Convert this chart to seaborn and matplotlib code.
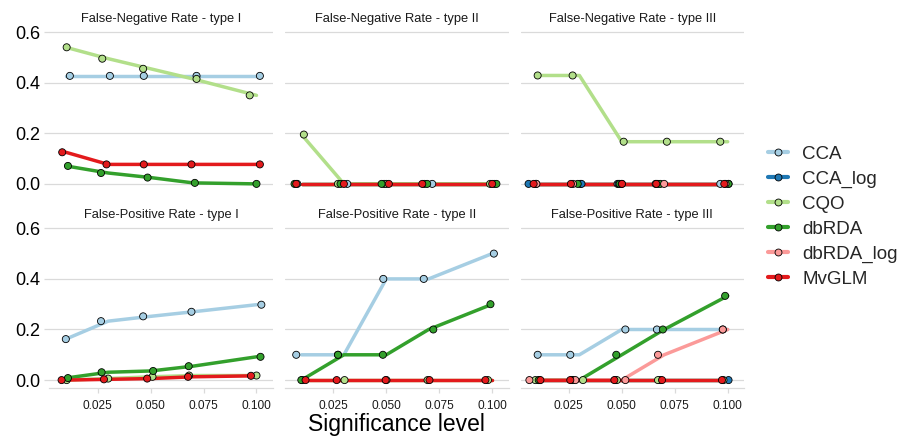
import numpy as np
import pandas as pd
import matplotlib
matplotlib.use("Agg")
import matplotlib.pyplot as plt
import seaborn as sns
from matplotlib.lines import Line2D

# ---------------- data ----------------
sig = [0.01, 0.03, 0.05, 0.07, 0.10]
methods = ["CCA", "CCA_log", "CQO", "dbRDA", "dbRDA_log", "MvGLM"]
colors = ["#A6CEE3", "#1F78B4", "#B2DF8A", "#33A02C", "#FB9A99", "#E31A1C"]
titles = ["False-Negative Rate - type I", "False-Negative Rate - type II",
          "False-Negative Rate - type III", "False-Positive Rate - type I",
          "False-Positive Rate - type II", "False-Positive Rate - type III"]
xticks = [0.025, 0.050, 0.075, 0.100]
xtick_labels = ["0.025", "0.050", "0.075", "0.100"]
yticks = [0.0, 0.2, 0.4, 0.6]
ytick_labels = ["0.0", "0.2", "0.4", "0.6"]

# rates (line values) per panel / method
fn1_vals = {"CCA": [0.427, 0.427, 0.427, 0.427, 0.427],
            "CQO": [0.54, 0.495, 0.455, 0.415, 0.35],
            "dbRDA": [0.071, 0.043, 0.025, 0.004, 0.0],
            "MvGLM": [0.125, 0.077, 0.077, 0.077, 0.077]}
fn2_vals = {"CCA": [0, 0, 0, 0, 0],
            "CQO": [0.195, 0, 0, 0, 0],
            "dbRDA": [0, 0, 0, 0, 0],
            "MvGLM": [0, 0, 0, 0, 0]}
fn3_vals = {"CCA": [0, 0, 0, 0, 0],
            "CCA_log": [0, 0, 0, 0, 0],
            "CQO": [0.4286, 0.4286, 0.1667, 0.1667, 0.1667],
            "dbRDA": [0, 0, 0, 0, 0],
            "dbRDA_log": [0, 0, 0, 0, 0],
            "MvGLM": [0, 0, 0, 0, 0]}
fp1_vals = {"CCA": [0.162, 0.233, 0.252, 0.27, 0.298],
            "CQO": [0.0, 0.006, 0.013, 0.018, 0.018],
            "dbRDA": [0.008, 0.031, 0.036, 0.055, 0.092],
            "MvGLM": [0.0, 0.003, 0.006, 0.013, 0.017]}
fp2_vals = {"CCA": [0.1, 0.1, 0.4, 0.4, 0.5],
            "CQO": [0, 0, 0, 0, 0],
            "dbRDA": [0.0, 0.1, 0.1, 0.2, 0.3],
            "MvGLM": [0, 0, 0, 0, 0]}
fp3_vals = {"CCA": [0.1, 0.1, 0.2, 0.2, 0.2],
            "CCA_log": [0, 0, 0, 0, 0],
            "CQO": [0, 0, 0, 0, 0],
            "dbRDA": [0.0, 0.0, 0.1, 0.2, 0.333],
            "dbRDA_log": [0.0, 0.0, 0.0, 0.1, 0.2],
            "MvGLM": [0, 0, 0, 0, 0]}

# jittered x positions of the points
fn1_jit = {"CCA": [0.0119, 0.0308, 0.0468, 0.0717, 0.1016],
           "CQO": [0.0104, 0.0272, 0.0465, 0.0717, 0.0968],
           "dbRDA": [0.0110, 0.0266, 0.0486, 0.0709, 0.1000],
           "MvGLM": [0.0083, 0.0292, 0.0468, 0.0693, 0.1016]}
fn2_jit = {"CCA": [0.0080, 0.0316, 0.0490, 0.0717, 0.1010],
           "CQO": [0.0111, 0.0272, 0.0500, 0.0680, 0.0990],
           "dbRDA": [0.0067, 0.0284, 0.0478, 0.0693, 0.1020],
           "MvGLM": [0.0075, 0.0300, 0.0512, 0.0670, 0.1000]}
fn3_jit = {"CCA": [0.0095, 0.0304, 0.0480, 0.0660, 0.0965],
           "CCA_log": [0.0060, 0.0310, 0.0485, 0.0670, 0.1004],
           "CQO": [0.0103, 0.0268, 0.0509, 0.0713, 0.0965],
           "dbRDA": [0.0095, 0.0292, 0.0490, 0.0682, 0.1004],
           "dbRDA_log": [0.0097, 0.0270, 0.0500, 0.0700, 0.0990],
           "MvGLM": [0.0084, 0.0260, 0.0501, 0.0663, 0.0984]}
fp1_jit = {"CCA": [0.0100, 0.0266, 0.0465, 0.0693, 0.1023],
           "CQO": [0.0104, 0.0300, 0.0509, 0.0682, 0.1000],
           "dbRDA": [0.0110, 0.0269, 0.0512, 0.0680, 0.1019],
           "MvGLM": [0.0080, 0.0280, 0.0484, 0.0677, 0.0974]}
fp2_jit = {"CCA": [0.0075, 0.0272, 0.0486, 0.0677, 0.1008],
           "CQO": [0.0104, 0.0303, 0.0501, 0.0695, 0.0980],
           "dbRDA": [0.0099, 0.0272, 0.0484, 0.0722, 0.0992],
           "MvGLM": [0.0119, 0.0266, 0.0497, 0.0704, 0.0968]}
fp3_jit = {"CCA": [0.0103, 0.0257, 0.0517, 0.0666, 0.0977],
           "CCA_log": [0.0110, 0.0270, 0.0470, 0.0682, 0.1004],
           "CQO": [0.0092, 0.0317, 0.0477, 0.0671, 0.0980],
           "dbRDA": [0.0108, 0.0265, 0.0474, 0.0694, 0.0988],
           "dbRDA_log": [0.0064, 0.0281, 0.0517, 0.0671, 0.0977],
           "MvGLM": [0.0116, 0.0257, 0.0465, 0.0690, 0.0973]}

panels = [(fn1_vals, fn1_jit), (fn2_vals, fn2_jit), (fn3_vals, fn3_jit),
          (fp1_vals, fp1_jit), (fp2_vals, fp2_jit), (fp3_vals, fp3_jit)]

# ---------------- plotting ----------------
sns.set_theme(style="white")
plt.rcParams["font.family"] = ["Liberation Sans", "DejaVu Sans"]

W, H = 899, 437
fig = plt.figure(figsize=(W / 100, H / 100), dpi=100)
palette = dict(zip(methods, colors))

lefts = [49.3, 285.0, 520.5]
tops = [24.4, 220.6]
pw, ph = 223.5, 167.2
grid_col = "#DADADA"

for i, (vals, jit) in enumerate(panels):
    r, c = divmod(i, 3)
    ax = fig.add_axes([lefts[c] / W, 1 - (tops[r] + ph) / H, pw / W, ph / H])
    rows = []
    for m in methods:
        if m not in vals:
            continue
        for s, v, xj in zip(sig, vals[m], jit[m]):
            rows.append({"method": m, "sig": s, "rate": v, "xj": xj})
    df = pd.DataFrame(rows)
    order = [m for m in methods if m in vals]
    sns.lineplot(data=df, x="sig", y="rate", hue="method", hue_order=order,
                 palette=palette, linewidth=2.5, estimator=None, sort=False,
                 legend=False, ax=ax, zorder=2)
    sns.scatterplot(data=df, x="xj", y="rate", hue="method", hue_order=order,
                    palette=palette, s=26, edgecolor="black", linewidth=0.6,
                    legend=False, ax=ax, zorder=3)
    ax.set_xlim(0.0022, 0.1077)
    ax.set_ylim(-0.0305, 0.6305)
    ax.set_xlabel("")
    ax.set_ylabel("")
    ax.set_yticks(yticks)
    ax.set_xticks(xticks)
    ax.grid(False)
    for yv in yticks:
        ax.axhline(yv, color=grid_col, lw=0.9, zorder=0)
    for sp in ax.spines.values():
        sp.set_visible(False)
    if r == 1:
        ax.spines["bottom"].set_visible(True)
        ax.spines["bottom"].set_color(grid_col)
        ax.spines["bottom"].set_linewidth(0.9)
        ax.set_xticklabels(xtick_labels)
        ax.tick_params(axis="x", bottom=True, length=3.3, width=0.9,
                       color=grid_col, labelsize=8.6, pad=5.5, labelcolor="#1a1a1a")
    else:
        ax.tick_params(axis="x", bottom=False, labelbottom=False)
    if c == 0:
        ax.set_yticklabels(ytick_labels)
        ax.tick_params(axis="y", left=True, length=3.3, width=0.9,
                       color=grid_col, labelsize=13, pad=3.4, labelcolor="black")
    else:
        ax.tick_params(axis="y", left=False, labelleft=False)
    ax.annotate(titles[i], xy=(0.5, 1.0), xycoords="axes fraction",
                xytext=(0, 1.6), textcoords="offset points",
                ha="center", va="baseline", fontsize=9.25, color="#1a1a1a")

fig.text(396.5 / W, 1 - 431 / H, "Significance level", ha="center",
         va="baseline", fontsize=16.5, color="black")

handles = [Line2D([0], [0], color=col, lw=3, marker="o", markersize=5,
                  markerfacecolor=col, markeredgecolor="black",
                  markeredgewidth=0.6) for col in colors]
fig.legend(handles, methods, loc="upper left",
           bbox_to_anchor=(768 / W, 1 - 145.5 / H), frameon=False,
           fontsize=13.5, handlelength=1.07, handletextpad=0.75,
           labelspacing=0.42, borderpad=0, borderaxespad=0)

fig.savefig("out.png", dpi=100)
